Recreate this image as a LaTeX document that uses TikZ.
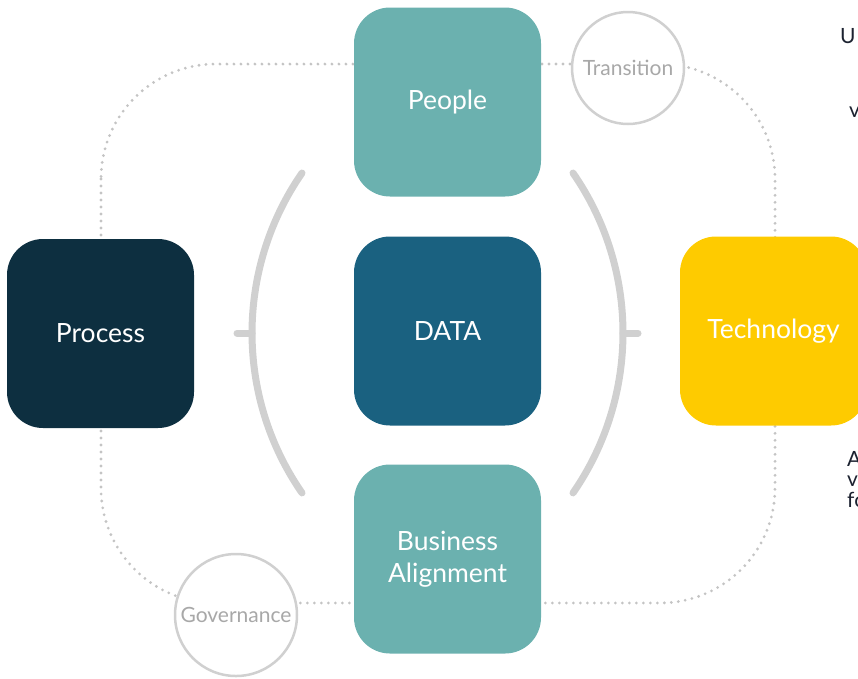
\documentclass[tikz,border=0pt]{standalone}
\usepackage{fontspec}
\setmainfont{Lato}
\definecolor{cteal}{HTML}{6BB1AF}
\definecolor{cdata}{HTML}{1A6180}
\definecolor{cproc}{HTML}{0D2F40}
\definecolor{ctech}{HTML}{FECB00}
\definecolor{cdot}{HTML}{C4C4C4}
\definecolor{cring}{HTML}{D0D0D0}
\definecolor{cgtext}{HTML}{A8A8A8}
\definecolor{cside}{HTML}{1C2230}
\tikzset{
  box/.style={rounded corners=36pt, minimum width=187pt, minimum height=189pt, inner sep=0pt,
    text=white, font=\fontsize{26.5}{32}\selectfont, align=center},
  ring/.style={circle, draw=cring, line width=2.5pt, fill=white, inner sep=0pt,
    text=cgtext, font=\fontsize{21}{22}\selectfont},
  dotline/.style={draw=cdot, line width=3.1pt, line cap=round, dash pattern=on 0pt off 7pt},
  brace/.style={draw=cring, line width=7pt, line cap=round},
  sidetext/.style={anchor=base west, inner sep=0pt, text=cside, font=\fontsize{21}{20}\selectfont}
}
\begin{document}
\begin{tikzpicture}[x=1pt,y=-1pt]
\useasboundingbox (0,0) rectangle (858,678);
% dotted frame
\draw[dotline, rounded corners=115pt] (101,64) rectangle (775,603);
% brackets
\draw[brace] (302,173) arc[start angle=145.3, end angle=214.7, radius=281pt];
\draw[brace] (237,333) -- (252,333);
\draw[brace] (573,173) arc[start angle=34.7, end angle=-34.7, radius=281pt];
\draw[brace] (623,333) -- (638,333);
% boxes
\node[box, fill=cteal] (people) at (447.5,102) {People};
\node[box, fill=cdata] (data) at (447.5,331) {DATA};
\node[box, fill=cteal] (business) at (447.5,559) {Business\\Alignment};
\node[box, fill=cproc] (process) at (100.5,333.5) {Process};
\node[box, fill=ctech] (tech) at (773.5,331) {Technology};
% rings
\node[ring, minimum size=112pt] (transition) at (628,68) {Transition};
\node[ring, minimum size=122pt] (governance) at (236,615) {Governance};
% cut-off side texts (cut off in the reference as well)
\node[sidetext] (t1) at (840,43) {U};
\node[sidetext] (t2) at (849,117) {v};
\node[sidetext] (t3) at (847,466) {A};
\node[sidetext] (t4) at (847,486) {v};
\node[sidetext] (t5) at (847,507) {fo};
\end{tikzpicture}
\end{document}
